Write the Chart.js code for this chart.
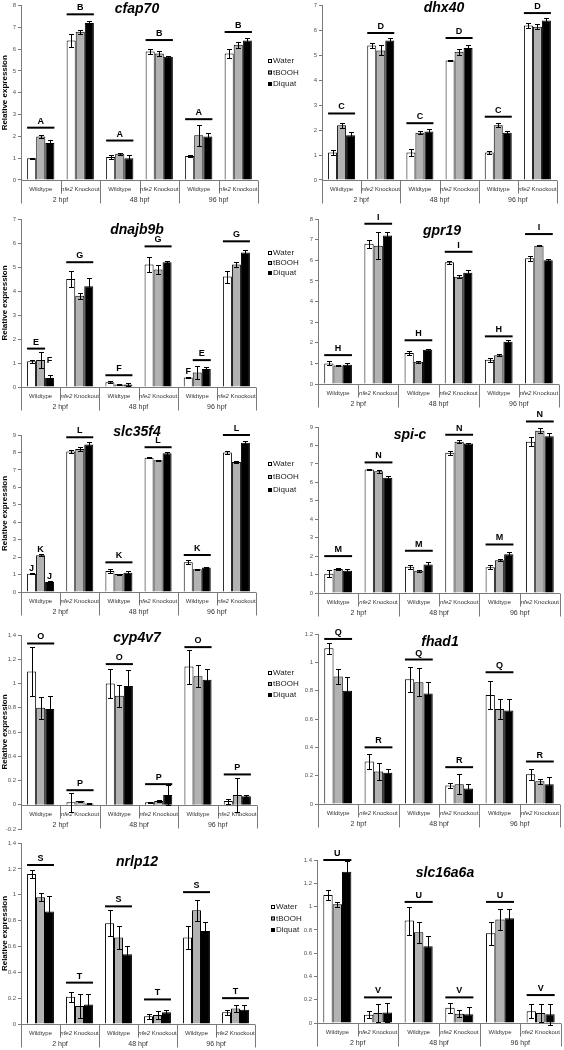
<!DOCTYPE html>
<html>
<head>
<meta charset="utf-8">
<script src="https://cdn.jsdelivr.net/npm/chart.js@4.4.1/dist/chart.umd.min.js"></script>
<style>
  html, body { margin: 0; padding: 0; background: #fff; }
  #page { position: relative; width: 564px; height: 1050px; overflow: hidden; background: #fff; }
  #page canvas { position: absolute; left: 0; top: 0; }
</style>
</head>
<body>
<div id="page"></div>
<script>
// Kategori dan perlakuan
const treatments = ['Water', 'tBOOH', 'Diquat'];
const genotypes = ['Wildtype', 'nfe2 Knockout'];
const stages = ['2 hpf', '48 hpf', '96 hpf'];
const categories = ['2 hpf Wildtype', '2 hpf nfe2 Knockout', '48 hpf Wildtype', '48 hpf nfe2 Knockout', '96 hpf Wildtype', '96 hpf nfe2 Knockout'];

// Nilai per gen: [Water, tBOOH, Diquat], masing-masing 6 kategori
const cfap70Values = [[1.0, 6.4, 1.05, 5.9, 1.1, 5.8], [2.0, 6.8, 1.2, 5.8, 2.05, 6.2], [1.7, 7.2, 1.0, 5.65, 2.0, 6.4]];
const cfap70Errors = [[0.03, 0.3, 0.1, 0.1, 0.05, 0.2], [0.08, 0.1, 0.06, 0.12, 0.47, 0.15], [0.13, 0.1, 0.15, 0.05, 0.15, 0.1]];
const dhx40Values = [[1.1, 5.4, 1.1, 4.8, 1.1, 6.2], [2.2, 5.2, 1.9, 5.15, 2.2, 6.15], [1.8, 5.6, 1.95, 5.3, 1.9, 6.4]];
const dhx40Errors = [[0.1, 0.1, 0.15, 0.03, 0.07, 0.1], [0.1, 0.2, 0.05, 0.12, 0.08, 0.1], [0.13, 0.08, 0.08, 0.13, 0.08, 0.1]];
const dnajb9bValues = [[1.07, 4.5, 0.2, 5.1, 0.4, 4.6], [1.12, 3.8, 0.1, 4.9, 0.6, 5.1], [0.38, 4.2, 0.1, 5.2, 0.75, 5.6]];
const dnajb9bErrors = [[0.07, 0.33, 0.03, 0.3, 0.03, 0.25], [0.32, 0.12, 0.03, 0.2, 0.28, 0.12], [0.1, 0.35, 0.05, 0.05, 0.1, 0.12]];
const gpr19Values = [[1.0, 6.8, 1.5, 5.9, 1.18, 6.1], [0.9, 6.7, 1.08, 5.2, 1.4, 6.7], [0.93, 7.2, 1.66, 5.4, 2.05, 6.0]];
const gpr19Errors = [[0.1, 0.2, 0.1, 0.07, 0.1, 0.12], [0.03, 0.65, 0.05, 0.08, 0.05, 0.03], [0.08, 0.15, 0.05, 0.12, 0.07, 0.05]];
const slc35f4Values = [[1.05, 8.05, 1.2, 7.7, 1.7, 8.0], [2.1, 8.2, 1.03, 7.55, 1.3, 7.45], [0.57, 8.45, 1.1, 7.95, 1.4, 8.55]];
const slc35f4Errors = [[0.03, 0.08, 0.1, 0.04, 0.12, 0.08], [0.05, 0.1, 0.03, 0.03, 0.03, 0.04], [0.04, 0.15, 0.08, 0.08, 0.05, 0.12]];
const spicValues = [[1.05, 6.7, 1.42, 7.6, 1.4, 8.2], [1.3, 6.6, 1.2, 8.2, 1.78, 8.8], [1.2, 6.25, 1.55, 8.1, 2.1, 8.5]];
const spicErrors = [[0.18, 0.05, 0.1, 0.1, 0.1, 0.25], [0.07, 0.08, 0.05, 0.08, 0.05, 0.12], [0.1, 0.12, 0.15, 0.05, 0.1, 0.15]];
const cyp4v7Values = [[1.1, 0.02, 1.0, 0.02, 1.14, 0.03], [0.8, 0.03, 0.9, 0.03, 1.06, 0.08], [0.79, 0.01, 0.98, 0.08, 1.03, 0.07]];
const cyp4v7Errors = [[0.2, 0.08, 0.12, 0.005, 0.14, 0.02], [0.09, 0.005, 0.09, 0.01, 0.09, 0.14], [0.11, 0.005, 0.13, 0.08, 0.09, 0.01]];
const fhad1Values = [[1.1, 0.3, 0.88, 0.13, 0.77, 0.21], [0.9, 0.23, 0.86, 0.14, 0.67, 0.16], [0.8, 0.22, 0.78, 0.11, 0.66, 0.14]];
const fhad1Errors = [[0.04, 0.05, 0.09, 0.02, 0.1, 0.04], [0.05, 0.06, 0.1, 0.07, 0.07, 0.02], [0.1, 0.03, 0.08, 0.03, 0.08, 0.05]];
const nrlp12Values = [[1.16, 0.21, 0.78, 0.06, 0.67, 0.09], [0.98, 0.14, 0.67, 0.07, 0.88, 0.12], [0.87, 0.15, 0.54, 0.09, 0.72, 0.11]];
const nrlp12Errors = [[0.03, 0.04, 0.1, 0.02, 0.09, 0.02], [0.03, 0.09, 0.09, 0.03, 0.08, 0.03], [0.12, 0.08, 0.06, 0.02, 0.07, 0.04]];
const slc16a6aValues = [[1.1, 0.07, 0.88, 0.13, 0.77, 0.1], [1.02, 0.085, 0.78, 0.08, 0.89, 0.085], [1.3, 0.09, 0.66, 0.075, 0.9, 0.075]];
const slc16a6aErrors = [[0.04, 0.03, 0.12, 0.04, 0.1, 0.06], [0.02, 0.08, 0.09, 0.03, 0.09, 0.08], [0.09, 0.08, 0.09, 0.06, 0.08, 0.09]];

// Huruf signifikansi: [huruf, kategori, bar awal, bar akhir, level, pakai garis]
const cfap70Letters = [['A', 0, 0, 2, 2.4, 1], ['B', 1, 0, 2, 7.6, 1], ['A', 2, 0, 2, 1.81, 1], ['B', 3, 0, 2, 6.42, 1], ['A', 4, 0, 2, 2.79, 1], ['B', 5, 0, 2, 6.79, 1]];
const dhx40Letters = [['C', 0, 0, 2, 2.67, 1], ['D', 1, 0, 2, 5.9, 1], ['C', 2, 0, 2, 2.28, 1], ['D', 3, 0, 2, 5.7, 1], ['C', 4, 0, 2, 2.54, 1], ['D', 5, 0, 2, 6.7, 1]];
const dnajb9bLetters = [['E', 0, 0, 1, 1.6, 1], ['F', 0, 2, 2, 0.98, 0], ['G', 1, 0, 2, 5.2, 1], ['F', 2, 0, 2, 0.49, 1], ['G', 3, 0, 2, 5.86, 1], ['F', 4, 0, 0, 0.56, 0], ['E', 4, 1, 2, 1.12, 1], ['G', 5, 0, 2, 6.07, 1]];
const gpr19Letters = [['H', 0, 0, 2, 1.4, 1], ['I', 1, 0, 2, 7.77, 1], ['H', 2, 0, 2, 2.12, 1], ['I', 3, 0, 2, 6.41, 1], ['H', 4, 0, 2, 2.31, 1], ['I', 5, 0, 2, 7.27, 1]];
const slc35f4Letters = [['J', 0, 0, 0, 1.2, 0], ['K', 0, 1, 1, 2.3, 0], ['J', 0, 2, 2, 0.75, 0], ['L', 1, 0, 2, 8.87, 1], ['K', 2, 0, 2, 1.7, 1], ['L', 3, 0, 2, 8.3, 1], ['K', 4, 0, 2, 2.12, 1], ['L', 5, 0, 2, 9.0, 1]];
const spicLetters = [['M', 0, 0, 2, 2.0, 1], ['N', 1, 0, 2, 7.08, 1], ['M', 2, 0, 2, 2.29, 1], ['N', 3, 0, 2, 8.58, 1], ['M', 4, 0, 2, 2.63, 1], ['N', 5, 0, 2, 9.3, 1]];
const cyp4v7Letters = [['O', 0, 0, 2, 1.33, 1], ['P', 1, 0, 2, 0.12, 1], ['O', 2, 0, 2, 1.16, 1], ['P', 3, 0, 2, 0.17, 1], ['O', 4, 0, 2, 1.3, 1], ['P', 5, 0, 2, 0.25, 1]];
const fhad1Letters = [['Q', 0, 0, 2, 1.165, 1], ['R', 1, 0, 2, 0.4, 1], ['Q', 2, 0, 2, 1.02, 1], ['R', 3, 0, 2, 0.26, 1], ['Q', 4, 0, 2, 0.93, 1], ['R', 5, 0, 2, 0.3, 1]];
const nrlp12Letters = [['S', 0, 0, 2, 1.23, 1], ['T', 1, 0, 2, 0.32, 1], ['S', 2, 0, 2, 0.91, 1], ['T', 3, 0, 2, 0.19, 1], ['S', 4, 0, 2, 1.02, 1], ['T', 5, 0, 2, 0.2, 1]];
const slc16a6aLetters = [['U', 0, 0, 2, 1.4, 1], ['V', 1, 0, 2, 0.22, 1], ['U', 2, 0, 2, 1.04, 1], ['V', 3, 0, 2, 0.22, 1], ['U', 4, 0, 2, 1.04, 1], ['V', 5, 0, 2, 0.24, 1]];

// Warna batang
const barColors = ['#ffffff', '#b2b2b2', '#000000'];
const FONT = 'Arial, "Liberation Sans", sans-serif';

// Tata letak panel (koordinat halaman): l/r = tepi area plot, t/b = piksel untuk max/min
const panels = [
  { name: 'cfap70', values: cfap70Values, errors: cfap70Errors, letters: cfap70Letters, min: 0, max: 8, step: 1, l: 21, r: 258, t: 3, b: 180, title: [137, 9], legend: [268, 61, 11.5], yTitle: true },
  { name: 'dhx40', values: dhx40Values, errors: dhx40Errors, letters: dhx40Letters, min: 0, max: 7, step: 1, l: 322, r: 557, t: 3, b: 180, title: [444, 8] },
  { name: 'dnajb9b', values: dnajb9bValues, errors: dnajb9bErrors, letters: dnajb9bLetters, min: 0, max: 7, step: 1, l: 21, r: 256, t: 219, b: 387, title: [137, 230], legend: [268, 253, 10], yTitle: true },
  { name: 'gpr19', values: gpr19Values, errors: gpr19Errors, letters: gpr19Letters, min: 0, max: 8, step: 1, l: 318, r: 559, t: 219, b: 384, title: [442, 231] },
  { name: 'slc35f4', values: slc35f4Values, errors: slc35f4Errors, letters: slc35f4Letters, min: 0, max: 9, step: 1, l: 21, r: 256, t: 435, b: 592, title: [137, 432], legend: [268, 464, 13], yTitle: true },
  { name: 'spi-c', values: spicValues, errors: spicErrors, letters: spicLetters, min: 0, max: 9, step: 1, l: 318, r: 560, t: 427, b: 593, title: [410, 435] },
  { name: 'cyp4v7', values: cyp4v7Values, errors: cyp4v7Errors, letters: cyp4v7Letters, min: -0.2, max: 1.4, step: 0.2, l: 21, r: 257, t: 635, b: 829, title: [137, 638], legend: [268, 673, 11], yTitle: true },
  { name: 'fhad1', values: fhad1Values, errors: fhad1Errors, letters: fhad1Letters, min: 0, max: 1.2, step: 0.2, l: 318, r: 560, t: 634, b: 804, title: [440, 642] },
  { name: 'nrlp12', values: nrlp12Values, errors: nrlp12Errors, letters: nrlp12Letters, min: 0, max: 1.4, step: 0.2, l: 21, r: 255, t: 843, b: 1024, title: [137, 862], legend: [271, 907, 11.5], yTitle: true },
  { name: 'slc16a6a', values: slc16a6aValues, errors: slc16a6aErrors, letters: slc16a6aLetters, min: 0, max: 1.4, step: 0.2, l: 317, r: 561, t: 860, b: 1023, title: [445, 873] }
];

// Plugin untuk sumbu kategori bertingkat, error bar, huruf, judul dan legenda
function decorPlugin(p) {
  return {
    id: 'decor',
    afterDatasetsDraw(chart) {
      const ctx = chart.ctx;
      const xs = chart.scales.x;
      const ys = chart.scales.y;
      const area = chart.chartArea;
      const y0 = Math.round(ys.getPixelForValue(0)) + 0.5;
      ctx.save();

      // Sumbu X dan garis pemisah kategori
      ctx.strokeStyle = '#7a7a7a';
      ctx.lineWidth = 1;
      ctx.beginPath();
      ctx.moveTo(area.left, y0);
      ctx.lineTo(area.right, y0);
      const cw = (area.right - area.left) / categories.length;
      for (let k = 0; k <= categories.length; k++) {
        const x = Math.round(area.left + k * cw) + 0.5;
        ctx.moveTo(x, y0);
        ctx.lineTo(x, y0 + (k % 2 === 0 ? 23 : 13));
      }
      ctx.stroke();

      // Label genotipe
      ctx.fillStyle = '#333';
      ctx.textBaseline = 'middle';
      categories.forEach((c, j) => {
        const cx = xs.getPixelForValue(j);
        const g = genotypes[j % 2];
        if (g === 'Wildtype') {
          ctx.font = '6px ' + FONT;
          ctx.textAlign = 'center';
          ctx.fillText(g, cx, y0 + 9);
        } else {
          ctx.font = 'italic 6px ' + FONT;
          const w1 = ctx.measureText('nfe2').width;
          ctx.font = '6px ' + FONT;
          const w2 = ctx.measureText(' Knockout').width;
          const sx = cx - (w1 + w2) / 2;
          ctx.textAlign = 'left';
          ctx.font = 'italic 6px ' + FONT;
          ctx.fillText('nfe2', sx, y0 + 9);
          ctx.font = '6px ' + FONT;
          ctx.fillText(' Knockout', sx + w1, y0 + 9);
        }
      });
      // Label waktu
      ctx.font = '7px ' + FONT;
      ctx.textAlign = 'center';
      stages.forEach((s, k) => {
        const cx = (xs.getPixelForValue(2 * k) + xs.getPixelForValue(2 * k + 1)) / 2;
        ctx.fillText(s, cx, y0 + 20);
      });

      // Error bar
      ctx.strokeStyle = '#000';
      ctx.lineWidth = 1;
      chart.data.datasets.forEach((ds, i) => {
        chart.getDatasetMeta(i).data.forEach((bar, j) => {
          const v = ds.data[j], e = p.errors[i][j];
          const x = Math.round(bar.x) + 0.5;
          const y1 = Math.round(ys.getPixelForValue(v + e)) + 0.5;
          const y2 = Math.round(ys.getPixelForValue(v - e)) + 0.5;
          ctx.beginPath();
          ctx.moveTo(x, y1); ctx.lineTo(x, y2);
          ctx.moveTo(x - 2.5, y1); ctx.lineTo(x + 2.5, y1);
          ctx.moveTo(x - 2.5, y2); ctx.lineTo(x + 2.5, y2);
          ctx.stroke();
        });
      });

      // Huruf signifikansi
      ctx.fillStyle = '#000';
      ctx.textAlign = 'center';
      ctx.textBaseline = 'alphabetic';
      ctx.font = 'bold 9px ' + FONT;
      p.letters.forEach(([txt, cat, b1, b2, level, line]) => {
        const first = chart.getDatasetMeta(b1).data[cat];
        const last = chart.getDatasetMeta(b2).data[cat];
        const x1 = first.x - first.width / 2;
        const x2 = last.x + last.width / 2;
        const yy = ys.getPixelForValue(level);
        if (line) {
          ctx.lineWidth = 2;
          ctx.beginPath();
          ctx.moveTo(x1, yy); ctx.lineTo(x2, yy);
          ctx.stroke();
          ctx.fillText(txt, (x1 + x2) / 2, yy - 4);
        } else {
          ctx.fillText(txt, (x1 + x2) / 2, yy);
        }
      });

      // Judul gen
      ctx.font = 'italic bold 14px ' + FONT;
      ctx.textBaseline = 'middle';
      ctx.fillText(p.name, p.title[0], p.title[1]);

      // Legenda
      if (p.legend) {
        const [lx, ly, dy] = p.legend;
        ctx.font = '8px ' + FONT;
        ctx.textAlign = 'left';
        treatments.forEach((t, i) => {
          const yy = ly + i * dy;
          ctx.fillStyle = barColors[i];
          ctx.fillRect(lx, yy - 2, 4, 4);
          ctx.strokeStyle = '#000';
          ctx.lineWidth = 1;
          ctx.strokeRect(lx + 0.5, yy - 1.5, 3, 3);
          ctx.fillStyle = '#222';
          ctx.fillText(t, lx + 5, yy);
        });
      }
      ctx.restore();
    }
  };
}

// Buat satu chart per panel
function initCharts() {
  const page = document.getElementById('page');
  panels.forEach(p => {
    const cv = document.createElement('canvas');
    cv.width = 564;
    cv.height = 1050;
    cv.style.width = '564px';
    cv.style.height = '1050px';
    page.appendChild(cv);
    const yw = p.yTitle ? p.l : 16;

    new Chart(cv.getContext('2d'), {
      type: 'bar',
      data: {
        labels: categories,
        datasets: treatments.map((t, i) => ({
          label: t,
          data: p.values[i],
          backgroundColor: barColors[i],
          borderColor: '#000',
          borderWidth: 1,
          categoryPercentage: 0.69,
          barPercentage: 1.0
        }))
      },
      options: {
        responsive: false,
        animation: false,
        devicePixelRatio: 1,
        layout: { padding: { left: p.l - yw, right: 564 - p.r, top: p.t, bottom: 1050 - p.b } },
        plugins: { legend: { display: false }, tooltip: { enabled: false } },
        scales: {
          x: { display: false },
          y: {
            min: p.min,
            max: p.max,
            ticks: {
              stepSize: p.step,
              padding: 2,
              color: '#555',
              font: { size: 6, family: FONT },
              callback: v => String(Math.round(v * 10) / 10)
            },
            grid: { drawOnChartArea: false, drawTicks: true, tickLength: 3, color: '#7a7a7a' },
            border: { display: true, color: '#7a7a7a' },
            title: {
              display: !!p.yTitle,
              text: 'Relative expression',
              color: '#000',
              padding: 0,
              font: { size: 8, weight: 'bold', family: FONT }
            },
            afterFit: s => { s.width = yw; }
          }
        }
      },
      plugins: [decorPlugin(p)]
    });
  });
}

initCharts();
</script>
</body>
</html>
